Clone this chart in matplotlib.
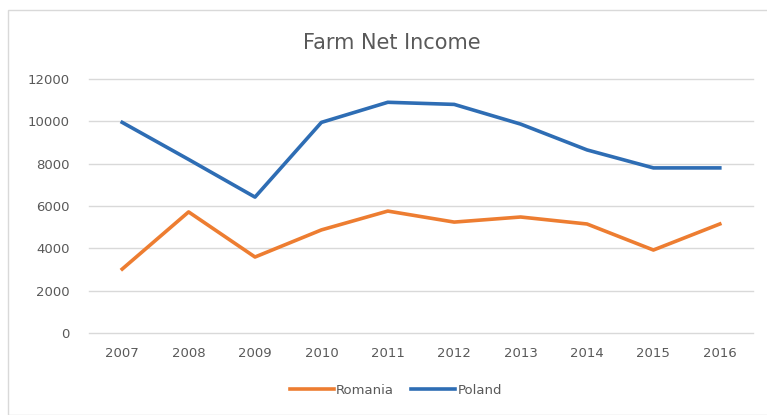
import matplotlib.pyplot as plt
from matplotlib.patches import Rectangle

years = ['2007', '2008', '2009', '2010', '2011', '2012', '2013', '2014', '2015', '2016']
romania = [3020, 5720, 3590, 4870, 5760, 5240, 5480, 5150, 3920, 5150]
poland = [9950, 8200, 6420, 9950, 10900, 10800, 9870, 8650, 7800, 7800]

W, H = 767, 415
fig = plt.figure(figsize=(W / 100, H / 100), dpi=100)
fig.patch.set_facecolor('white')

# chart area border
fig.patches.append(Rectangle((8 / W, 0), 1.2, 1 - 10 / H, transform=fig.transFigure,
                             fill=False, edgecolor='#d9d9d9', linewidth=1))

ax = fig.add_axes([89 / W, 1 - 333 / H, (753 - 89) / W, (333 - 79) / H])
x = list(range(len(years)))
ax.plot(x, romania, color='#ED7D31', linewidth=2.6, label='Romania')
ax.plot(x, poland, color='#2E6DB4', linewidth=2.6, label='Poland')

ax.set_xlim(-0.5, len(years) - 0.5)
ax.set_ylim(0, 12000)
ax.set_yticks(range(0, 12001, 2000))
ax.set_xticks(x)
ax.set_xticklabels(years)
ax.grid(axis='y', color='#d9d9d9', linewidth=1)
for gl in ax.get_ygridlines():
    gl.set_clip_on(False)
ax.set_axisbelow(True)
for s in ax.spines.values():
    s.set_visible(False)
ax.tick_params(axis='x', length=0, colors='#595959', labelsize=9.5, pad=10)
ax.tick_params(axis='y', length=0, colors='#595959', labelsize=9.5, pad=14)

fig.text(392 / W, 1 - 43 / H, 'Farm Net Income', ha='center', va='center',
         fontsize=15, color='#595959')

fig.legend(loc='center', bbox_to_anchor=(396 / W, 1 - 390 / H), ncol=2, frameon=False,
           fontsize=9.5, labelcolor='#595959', handlelength=3.3, handletextpad=0.2,
           columnspacing=1.3)

fig.savefig('out.png', dpi=100)
